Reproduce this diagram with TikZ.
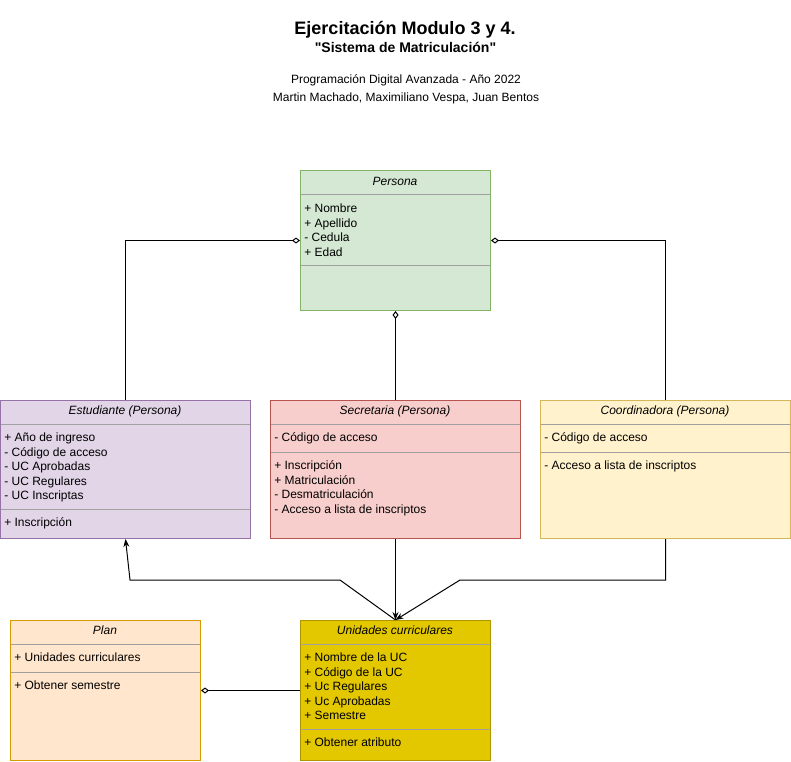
\documentclass[tikz,border=0pt]{standalone}
\usepackage{fontspec}
\setmainfont{Liberation Sans}
\newfontfamily\plainsans{Liberation Sans}
\usetikzlibrary{arrows.meta,positioning}
\definecolor{personafill}{HTML}{D5E8D4}
\definecolor{personadraw}{HTML}{82B366}
\definecolor{estudfill}{HTML}{E1D5E7}
\definecolor{estuddraw}{HTML}{9673A6}
\definecolor{secrefill}{HTML}{F8CECC}
\definecolor{secredraw}{HTML}{B85450}
\definecolor{coordfill}{HTML}{FFF2CC}
\definecolor{coorddraw}{HTML}{D6B656}
\definecolor{planfill}{HTML}{FFE6CC}
\definecolor{plandraw}{HTML}{D79B00}
\definecolor{ucfill}{HTML}{E3C800}
\definecolor{ucdraw}{HTML}{B09500}
\definecolor{divgray}{HTML}{A0A0A0}
\tikzset{
  umlbox/.style={draw,rectangle,anchor=north west,inner sep=0pt,line width=0.75pt},
  smallbox/.style={umlbox,minimum width=142.5pt,minimum height=105pt},
  widebox/.style={umlbox,minimum width=187.5pt,minimum height=103.5pt},
  classname/.style={font=\itshape\fontsize{9}{10.9}\selectfont,anchor=base,inner sep=0pt},
  members/.style={font=\fontsize{9}{10.875}\selectfont,align=left,anchor=base west,inner sep=0pt},
  divider/.style={draw=divgray,line width=0.75pt},
  aggr/.style={-{Diamond[open,length=6pt,width=4.5pt]},line width=0.75pt},
  assoc/.style={-{Stealth[length=6pt,width=4.5pt]},line width=0.75pt},
  every node/.style={text=black}
}

\begin{document}
\begin{tikzpicture}[x=0.75pt,y=-0.75pt]
  \useasboundingbox (0,0) rectangle (791,761);
  % title block (base anchor = last line)
  \node[font=\bfseries\fontsize{13.5}{16}\selectfont,anchor=base] (title) at (405,34.5) {Ejercitación Modulo 3 y 4.};
  \node[font=\plainsans\bfseries\fontsize{10.5}{12}\selectfont,anchor=base] (subtitle) at (405.5,52) {"Sistema de Matriculación"};
  \node[font=\fontsize{9}{13.5}\selectfont,align=center,anchor=base] (authors) at (406,101.5)
    {Programación Digital Avanzada - Año 2022\\Martin Machado, Maximiliano Vespa, Juan Bentos};

  % class boxes
  \node[smallbox,fill=personafill,draw=personadraw] (persona) at (300,170) {};
  \node[widebox,fill=estudfill,draw=estuddraw] (estudiante) at (0,400) {};
  \node[widebox,fill=secrefill,draw=secredraw] (secretaria) at (270,400) {};
  \node[widebox,fill=coordfill,draw=coorddraw] (coordinadora) at (540,400) {};
  \node[smallbox,fill=planfill,draw=plandraw] (plan) at (10,620) {};
  \node[smallbox,fill=ucfill,draw=ucdraw] (unidades) at (300,620) {};

  % Persona
  \node[classname] (persona-name) at (395,185.5) {Persona};
  \draw[divider] (300.5,194) -- (489.5,194);
  \node[members] (persona-attr) at (304,256) {+ Nombre\\+ Apellido\\- Cedula\\+ Edad};
  \draw[divider] (300.5,265) -- (489.5,265);

  % Estudiante
  \node[classname] (estudiante-name) at (125,414.5) {Estudiante (Persona)};
  \draw[divider] (0.5,424) -- (249.5,424);
  \node[members] (estudiante-attr) at (4,499.5)
    {+ Año de ingreso\\- Código de acceso\\- UC Aprobadas\\- UC Regulares\\- UC Inscriptas};
  \draw[divider] (0.5,509) -- (249.5,509);
  \node[members] (estudiante-meth) at (4,526.5) {+ Inscripción};

  % Secretaria
  \node[classname] (secretaria-name) at (395,414.5) {Secretaria (Persona)};
  \draw[divider] (270.5,424) -- (519.5,424);
  \node[members] (secretaria-attr) at (274,441.5) {- Código de acceso};
  \draw[divider] (270.5,452) -- (519.5,452);
  \node[members] (secretaria-meth) at (274,513)
    {+ Inscripción\\+ Matriculación\\- Desmatriculación\\- Acceso a lista de inscriptos};

  % Coordinadora
  \node[classname] (coordinadora-name) at (665,414.5) {Coordinadora (Persona)};
  \draw[divider] (540.5,424) -- (789.5,424);
  \node[members] (coordinadora-attr) at (544,441.5) {- Código de acceso};
  \draw[divider] (540.5,452) -- (789.5,452);
  \node[members] (coordinadora-meth) at (544,469.5) {- Acceso a lista de inscriptos};

  % Plan
  \node[classname] (plan-name) at (105,634.5) {Plan};
  \draw[divider] (10.5,644) -- (199.5,644);
  \node[members] (plan-attr) at (14,661.5) {+ Unidades curriculares};
  \draw[divider] (10.5,672) -- (199.5,672);
  \node[members] (plan-meth) at (14,689.5) {+ Obtener semestre};

  % Unidades curriculares
  \node[classname] (unidades-name) at (395,634.5) {Unidades curriculares};
  \draw[divider] (300.5,644) -- (489.5,644);
  \node[members] (unidades-attr) at (304,719.5)
    {+ Nombre de la UC\\+ Código de la UC\\+ Uc Regulares\\+ Uc Aprobadas\\+ Semestre};
  \draw[divider] (300.5,729) -- (489.5,729);
  \node[members] (unidades-meth) at (304,746.5) {+ Obtener atributo};

  % bends
  \coordinate (cbend) at (460,580);
  \coordinate (ebend1) at (340,580);
  \coordinate (ebend2) at (130,580);

  % connectors
  \draw[aggr] (estudiante.north) |- (persona.west);
  \draw[aggr] (coordinadora.north) |- (persona.east);
  \draw[aggr] (secretaria.north) -- (persona.south);
  \draw[assoc] (secretaria.south) -- (unidades.north);
  \draw[assoc] (coordinadora.south) |- (cbend) -- (unidades.north);
  \draw[assoc] (unidades.north) -- (ebend1) -- (ebend2) -- (estudiante.south);
  \draw[aggr] (unidades.west) -- (plan.east);
\end{tikzpicture}
\end{document}
